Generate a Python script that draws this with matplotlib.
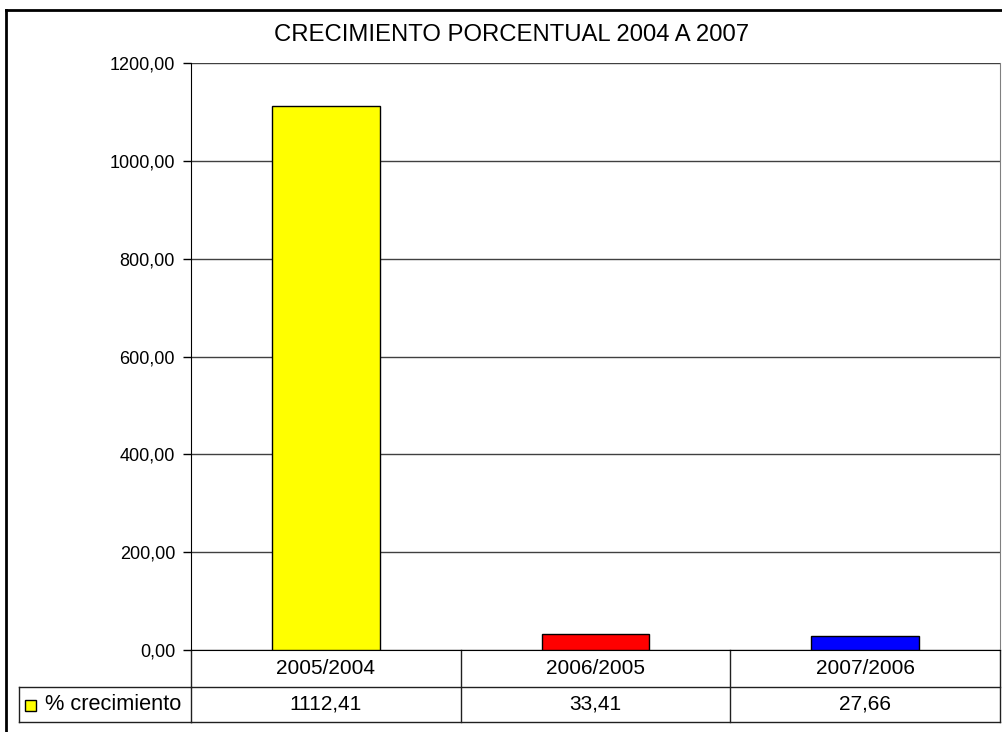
import matplotlib
matplotlib.use('Agg')
import matplotlib.pyplot as plt
from matplotlib.patches import Rectangle

# data
periodos = ['2005/2004', '2006/2005', '2007/2006']
crecimiento = [1112.41, 33.41, 27.66]
colores = ['#FFFF00', '#FF0000', '#0000FF']
serie = '% crecimiento'
titulo = 'CRECIMIENTO PORCENTUAL 2004 A 2007'
y_ticks = [0, 200, 400, 600, 800, 1000, 1200]

plt.rcParams['font.family'] = ['Liberation Sans', 'DejaVu Sans']

W, H = 1003, 732
fig = plt.figure(figsize=(W / 100, H / 100), dpi=100)

# plot area in pixels: x 191..1000, y 63..650
ax = fig.add_axes([191 / W, (H - 650) / H, (1000 - 191) / W, (650 - 63) / H])

x = range(len(periodos))
ax.bar(x, crecimiento, width=0.4, color=colores, edgecolor='black', linewidth=1, zorder=3)

ax.set_xlim(-0.5, len(periodos) - 0.5)
ax.set_ylim(0, 1200)
ax.set_yticks(y_ticks)
ax.set_yticklabels([f'{v:.2f}'.replace('.', ',') for v in y_ticks], fontsize=13)
ax.set_xticks([])
ax.tick_params(axis='y', length=6, width=1, pad=5.5, color='black')
ax.yaxis.grid(True, color='#404040', linewidth=1, zorder=0)

ax.spines['right'].set_color('#808080')
ax.spines['left'].set_color('black')
ax.spines['bottom'].set_color('black')
ax.spines['top'].set_visible(False)

# data table below the plot (axes coords for y, data coords for x)
trans = ax.get_xaxis_transform()
row1 = -37 / 587
row2 = -72 / 587
legend_x = (19 - 191) / 809
line_kw = dict(color='#202020', linewidth=1, clip_on=False, transform=trans)

n = len(periodos)
for i in range(n + 1):
    ax.plot([i - 0.5, i - 0.5], [0, row2], **line_kw)
ax.plot([-0.5, n - 0.5], [row1, row1], **line_kw)
ax.plot([-0.5, n - 0.5], [row2, row2], **line_kw)

tab_trans = ax.transAxes
ax.plot([legend_x, 0], [row1, row1], color='#202020', linewidth=1, clip_on=False, transform=tab_trans)
ax.plot([legend_x, 0], [row2, row2], color='#202020', linewidth=1, clip_on=False, transform=tab_trans)
ax.plot([legend_x, legend_x], [row1, row2], color='#202020', linewidth=1, clip_on=False, transform=tab_trans)

for i, (p, v) in enumerate(zip(periodos, crecimiento)):
    ax.text(i, row1 / 2, p, ha='center', va='center', fontsize=15, transform=trans)
    ax.text(i, (row1 + row2) / 2, f'{v:.2f}'.replace('.', ','), ha='center', va='center',
            fontsize=15, transform=trans)

# legend key inside the table
key = Rectangle((25 / W, (H - 711) / H), 11 / W, 11 / H, facecolor=colores[0],
                edgecolor='black', linewidth=1, transform=fig.transFigure)
fig.patches.append(key)
fig.text(45 / W, (H - 705) / H, serie, ha='left', va='center', fontsize=15.7)

# title
fig.text(512 / W, (H - 35) / H, titulo, ha='center', va='center', fontsize=17.2)

# outer chart frame (left and top visible)
fig.add_artist(plt.Line2D([6 / W, 6 / W], [0, (H - 10) / H], color='black', linewidth=2,
                          transform=fig.transFigure))
fig.add_artist(plt.Line2D([6 / W, 1], [(H - 10) / H, (H - 10) / H], color='black', linewidth=2,
                          transform=fig.transFigure))

plt.savefig('out.png', dpi=100)
